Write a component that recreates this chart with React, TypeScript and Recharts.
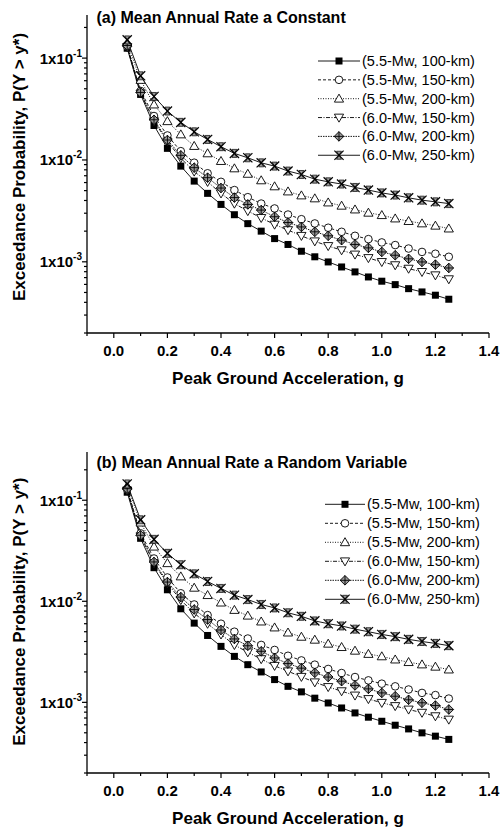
import React from "react";
import { LineChart, Line, XAxis, YAxis } from "recharts";

const FONT = '"Liberation Sans", Arial, Helvetica, sans-serif';

// peak ground acceleration (g)
const pga = [
  0.05, 0.1, 0.15, 0.2, 0.25, 0.3, 0.35, 0.4, 0.45, 0.5, 0.55, 0.6, 0.65,
  0.7, 0.75, 0.8, 0.85, 0.9, 0.95, 1.0, 1.05, 1.1, 1.15, 1.2, 1.25,
];

const seriesNames = [
  "(5.5-Mw, 100-km)",
  "(5.5-Mw, 150-km)",
  "(5.5-Mw, 200-km)",
  "(6.0-Mw, 150-km)",
  "(6.0-Mw, 200-km)",
  "(6.0-Mw, 250-km)",
];

// (a) mean annual rate a constant
const aM55R100 = [
  0.125, 0.044, 0.0218, 0.013, 0.0087, 0.0062, 0.0047, 0.00366, 0.0029,
  0.00237, 0.002, 0.00169, 0.00148, 0.00127, 0.00112, 0.000997, 0.00089,
  0.000796, 0.00071, 0.000645, 0.000597, 0.000545, 0.000506, 0.00047, 0.000429,
];
const aM55R150 = [
  0.13, 0.0476, 0.027, 0.0174, 0.0122, 0.0094, 0.0074, 0.0061, 0.00506,
  0.00431, 0.00373, 0.00334, 0.00291, 0.00262, 0.00238, 0.00216, 0.00197,
  0.0018, 0.00167, 0.00155, 0.00146, 0.00135, 0.00125, 0.0012, 0.00112,
];
const aM55R200 = [
  0.14, 0.061, 0.035, 0.024, 0.0178, 0.0137, 0.0116, 0.00975, 0.00826,
  0.0073, 0.0063, 0.0055, 0.0049, 0.00448, 0.00419, 0.00382, 0.00355,
  0.00326, 0.00303, 0.00287, 0.00266, 0.00251, 0.00238, 0.00226, 0.00212,
];
const aM60R150 = [
  0.128, 0.045, 0.024, 0.0152, 0.0104, 0.0077, 0.0061, 0.0047, 0.00373,
  0.00315, 0.0027, 0.00232, 0.00205, 0.0018, 0.00159, 0.00143, 0.0013,
  0.00118, 0.00109, 0.000997, 0.000927, 0.000857, 0.000796, 0.000738, 0.000675,
];
const aM60R200 = [
  0.133, 0.046, 0.0248, 0.0157, 0.0111, 0.0084, 0.0067, 0.0053, 0.00427,
  0.00366, 0.00322, 0.00277, 0.00243, 0.0022, 0.00197, 0.0018, 0.00163,
  0.00148, 0.00137, 0.00125, 0.00116, 0.00107, 0.000997, 0.000938, 0.00087,
];
const aM60R250 = [
  0.151, 0.067, 0.042, 0.0302, 0.0234, 0.0189, 0.0159, 0.0135, 0.0116,
  0.0105, 0.00937, 0.0087, 0.00778, 0.0072, 0.00648, 0.0061, 0.0058,
  0.00537, 0.00506, 0.00475, 0.00452, 0.00425, 0.00403, 0.00388, 0.00373,
];

// (b) mean annual rate a random variable
const bM55R100 = [
  0.12, 0.042, 0.0215, 0.013, 0.00843, 0.00608, 0.00459, 0.00358, 0.00285,
  0.00236, 0.002, 0.00168, 0.00144, 0.00127, 0.0011, 0.000986, 0.00088,
  0.000786, 0.000713, 0.00065, 0.000594, 0.000546, 0.000499, 0.000463, 0.00043,
];
const bM55R150 = [
  0.128, 0.047, 0.0265, 0.0172, 0.012, 0.0093, 0.0073, 0.006, 0.005,
  0.00428, 0.0037, 0.0033, 0.00289, 0.0026, 0.00236, 0.00214, 0.00195,
  0.00178, 0.00165, 0.00153, 0.00144, 0.00134, 0.00124, 0.00118, 0.00109,
];
const bM55R200 = [
  0.138, 0.06, 0.0347, 0.0238, 0.0176, 0.0136, 0.0115, 0.0097, 0.0082,
  0.0072, 0.0063, 0.0055, 0.0049, 0.00445, 0.00416, 0.0038, 0.00352,
  0.00324, 0.00301, 0.00285, 0.00265, 0.0025, 0.00237, 0.00225, 0.00211,
];
const bM60R150 = [
  0.125, 0.044, 0.0238, 0.015, 0.0103, 0.0076, 0.006, 0.0047, 0.0037,
  0.00313, 0.00268, 0.0023, 0.00203, 0.00179, 0.00158, 0.00142, 0.00129,
  0.00117, 0.00108, 0.00099, 0.00092, 0.00085, 0.00079, 0.00073, 0.000676,
];
const bM60R200 = [
  0.13, 0.045, 0.0245, 0.0155, 0.011, 0.0083, 0.0066, 0.0052, 0.00424,
  0.00363, 0.0032, 0.00275, 0.00242, 0.00218, 0.00196, 0.00178, 0.00162,
  0.00147, 0.00136, 0.00124, 0.00115, 0.00106, 0.00099, 0.00093, 0.00085,
];
const bM60R250 = [
  0.145, 0.064, 0.041, 0.0298, 0.023, 0.0187, 0.0157, 0.0134, 0.0115,
  0.0104, 0.0093, 0.0086, 0.0077, 0.0071, 0.0064, 0.006, 0.0057,
  0.0053, 0.005, 0.0047, 0.00447, 0.0042, 0.004, 0.00383, 0.00364,
];

const xTicks = [
  -0.1, 0, 0.1, 0.2, 0.3, 0.4, 0.5, 0.6, 0.7, 0.8, 0.9, 1.0, 1.1, 1.2, 1.3, 1.4,
];
const xMajor = [0, 0.2, 0.4, 0.6, 0.8, 1.0, 1.2, 1.4];

const yMajor = [0.001, 0.01, 0.1];
const yMajorExp = ["-3", "-2", "-1"];
const yTicks = [
  0.0002, 0.0003, 0.0004, 0.0005, 0.0006, 0.0007, 0.0008, 0.0009,
  0.001, 0.002, 0.003, 0.004, 0.005, 0.006, 0.007, 0.008, 0.009,
  0.01, 0.02, 0.03, 0.04, 0.05, 0.06, 0.07, 0.08, 0.09, 0.1, 0.2,
];

const SERIES = [
  { key: "s1", marker: "square", dash: undefined },
  { key: "s2", marker: "circle", dash: "3 2" },
  { key: "s3", marker: "up", dash: "1 1.5" },
  { key: "s4", marker: "down", dash: "4 1.5 1 1.5" },
  { key: "s5", marker: "diamond", dash: "1.5 1" },
  { key: "s6", marker: "xstar", dash: undefined },
];

function buildRows(cols: number[][]) {
  return pga.map((x, i) => {
    const row: any = { x };
    SERIES.forEach((s, j) => (row[s.key] = cols[j][i]));
    return row;
  });
}

const rowsA = buildRows([aM55R100, aM55R150, aM55R200, aM60R150, aM60R200, aM60R250]);
const rowsB = buildRows([bM55R100, bM55R150, bM55R200, bM60R150, bM60R200, bM60R250]);

function Marker({ kind, cx, cy }: { kind: string; cx: number; cy: number }) {
  if (cx == null || cy == null || isNaN(cx) || isNaN(cy)) return null;
  const sw = 0.9;
  switch (kind) {
    case "square":
      return <rect x={cx - 3.5} y={cy - 3.5} width={7} height={7} fill="#000" />;
    case "circle":
      return <circle cx={cx} cy={cy} r={3.8} fill="#fff" stroke="#000" strokeWidth={sw} />;
    case "up":
      return (
        <polygon
          points={`${cx},${cy - 4.6} ${cx + 4.6},${cy + 3.4} ${cx - 4.6},${cy + 3.4}`}
          fill="#fff"
          stroke="#000"
          strokeWidth={sw}
        />
      );
    case "down":
      return (
        <polygon
          points={`${cx - 4.6},${cy - 3.4} ${cx + 4.6},${cy - 3.4} ${cx},${cy + 4.6}`}
          fill="#fff"
          stroke="#000"
          strokeWidth={sw}
        />
      );
    case "diamond":
      return (
        <g>
          <polygon
            points={`${cx},${cy - 4.8} ${cx + 4.8},${cy} ${cx},${cy + 4.8} ${cx - 4.8},${cy}`}
            fill="#999"
            stroke="#000"
            strokeWidth={sw}
          />
          <line x1={cx - 4.8} x2={cx + 4.8} y1={cy} y2={cy} stroke="#000" strokeWidth={sw} />
          <line x1={cx} x2={cx} y1={cy - 4.8} y2={cy + 4.8} stroke="#000" strokeWidth={sw} />
        </g>
      );
    default:
      return (
        <g>
          <polygon
            points={`${cx - 2.5},${cy - 4} ${cx + 2.5},${cy - 4} ${cx},${cy} ${cx - 2.5},${cy + 4} ${cx + 2.5},${cy + 4} ${cx},${cy}`}
            fill="#999"
            stroke="#000"
            strokeWidth={0.7}
          />
          <line x1={cx - 4.6} x2={cx + 4.6} y1={cy - 4.6} y2={cy + 4.6} stroke="#000" strokeWidth={1.2} />
          <line x1={cx - 4.6} x2={cx + 4.6} y1={cy + 4.6} y2={cy - 4.6} stroke="#000" strokeWidth={1.2} />
        </g>
      );
  }
}

const XTick = (props: any) => {
  const { x, y, payload } = props;
  const v = payload.value;
  const major = xMajor.some((m) => Math.abs(m - v) < 1e-9);
  return (
    <g>
      <line x1={x} x2={x} y1={y} y2={y + (major ? 5 : 3)} stroke="#000" strokeWidth={1.2} />
      {major && (
        <text x={x} y={y + 23} textAnchor="middle" fontFamily={FONT} fontWeight="bold" fontSize={15} fill="#000">
          {v.toFixed(1)}
        </text>
      )}
    </g>
  );
};

const YTick = (props: any) => {
  const { x, y, payload } = props;
  const v = payload.value;
  const idx = yMajor.findIndex((m) => Math.abs(m - v) / m < 1e-6);
  const major = idx >= 0;
  return (
    <g>
      <line x1={x} x2={x - (major ? 5 : 3)} y1={y} y2={y} stroke="#000" strokeWidth={1.2} />
      {major && (
        <text x={x - 5} y={y + 5.4} textAnchor="end" fontFamily={FONT} fontWeight="bold" fontSize={15} fill="#000">
          1x10
          <tspan dy={-7} fontSize={10}>
            {yMajorExp[idx]}
          </tspan>
        </text>
      )}
    </g>
  );
};

type PanelCfg = {
  top: number;
  height: number;
  plotTop: number;
  plotBottom: number;
  yMax: number;
  title: string;
  titleY: number;
  legendY0: number;
  legendStep: number;
  legendX: number;
  legendW: number;
  xTitleY: number;
  yTitleCy: number;
};

function Panel({ rows, cfg }: { rows: any[]; cfg: PanelCfg }) {
  const W = 501;
  const axisH = 30;
  return (
    <div style={{ position: "absolute", left: 0, top: cfg.top, width: W, height: cfg.height }}>
      <LineChart
        width={W}
        height={cfg.height}
        data={rows}
        margin={{ top: cfg.plotTop, right: 12, bottom: cfg.height - cfg.plotBottom - axisH, left: 0 }}
      >
        <XAxis
          dataKey="x"
          type="number"
          domain={[-0.1, 1.4]}
          ticks={xTicks}
          interval={0}
          height={axisH}
          tickSize={0}
          tickMargin={0}
          tick={<XTick />}
          axisLine={{ stroke: "#000", strokeWidth: 1.3 }}
          allowDataOverflow
        />
        <YAxis
          type="number"
          scale="log"
          domain={[0.0002, cfg.yMax]}
          ticks={yTicks}
          interval={0}
          width={87}
          tickSize={0}
          tickMargin={0}
          tick={<YTick />}
          axisLine={{ stroke: "#000", strokeWidth: 1.3 }}
          allowDataOverflow
        />
        {SERIES.map((s) => (
          <Line
            key={s.key}
            dataKey={s.key}
            type="linear"
            stroke="#000"
            strokeWidth={0.9}
            strokeDasharray={s.dash}
            isAnimationActive={false}
            dot={(p: any) => <Marker key={`${s.key}-${p.index}`} kind={s.marker} cx={p.cx} cy={p.cy} />}
          />
        ))}
      </LineChart>
      <svg
        width={W}
        height={cfg.height}
        style={{ position: "absolute", left: 0, top: 0, pointerEvents: "none" }}
      >
        <text x={96.5} y={cfg.titleY} fontFamily={FONT} fontWeight="bold" fontSize={16} fill="#000">
          {cfg.title}
        </text>
        {SERIES.map((s, i) => {
          const cy = cfg.legendY0 + i * cfg.legendStep;
          const x0 = cfg.legendX;
          return (
            <g key={s.key}>
              <line x1={x0} x2={x0 + cfg.legendW} y1={cy} y2={cy} stroke="#000" strokeWidth={0.9} strokeDasharray={s.dash} />
              <Marker kind={s.marker} cx={x0 + cfg.legendW / 2} cy={cy} />
              <text x={x0 + cfg.legendW + 2} y={cy + 5} fontFamily={FONT} fontSize={14.5} fill="#000">
                {seriesNames[i]}
              </text>
            </g>
          );
        })}
        <text x={288} y={cfg.xTitleY} textAnchor="middle" fontFamily={FONT} fontWeight="bold" fontSize={17} fill="#000">
          Peak Ground Acceleration, g
        </text>
        <text
          x={25}
          y={cfg.yTitleCy}
          textAnchor="middle"
          transform={`rotate(-90, 25, ${cfg.yTitleCy})`}
          fontFamily={FONT}
          fontWeight="bold"
          fontSize={17}
          fill="#000"
        >
          Exceedance Probability, P(Y &gt; y*)
        </text>
      </svg>
    </div>
  );
}

const panelA: PanelCfg = {
  top: 0,
  height: 400,
  plotTop: 15,
  plotBottom: 333,
  yMax: 0.265,
  title: "(a) Mean Annual Rate a Constant",
  titleY: 23,
  legendY0: 61,
  legendStep: 18.85,
  legendX: 318,
  legendW: 42,
  xTitleY: 384,
  yTitleCy: 167,
};

const panelB: PanelCfg = {
  top: 437,
  height: 394,
  plotTop: 15,
  plotBottom: 336,
  yMax: 0.3,
  title: "(b) Mean Annual Rate a Random Variable",
  titleY: 31,
  legendY0: 67.3,
  legendStep: 19,
  legendX: 325,
  legendW: 40,
  xTitleY: 387,
  yTitleCy: 174.7,
};

export default function App() {
  return (
    <div style={{ position: "absolute", left: 0, top: 0, width: 501, height: 831, background: "#fff" }}>
      <Panel rows={rowsA} cfg={panelA} />
      <Panel rows={rowsB} cfg={panelB} />
    </div>
  );
}
